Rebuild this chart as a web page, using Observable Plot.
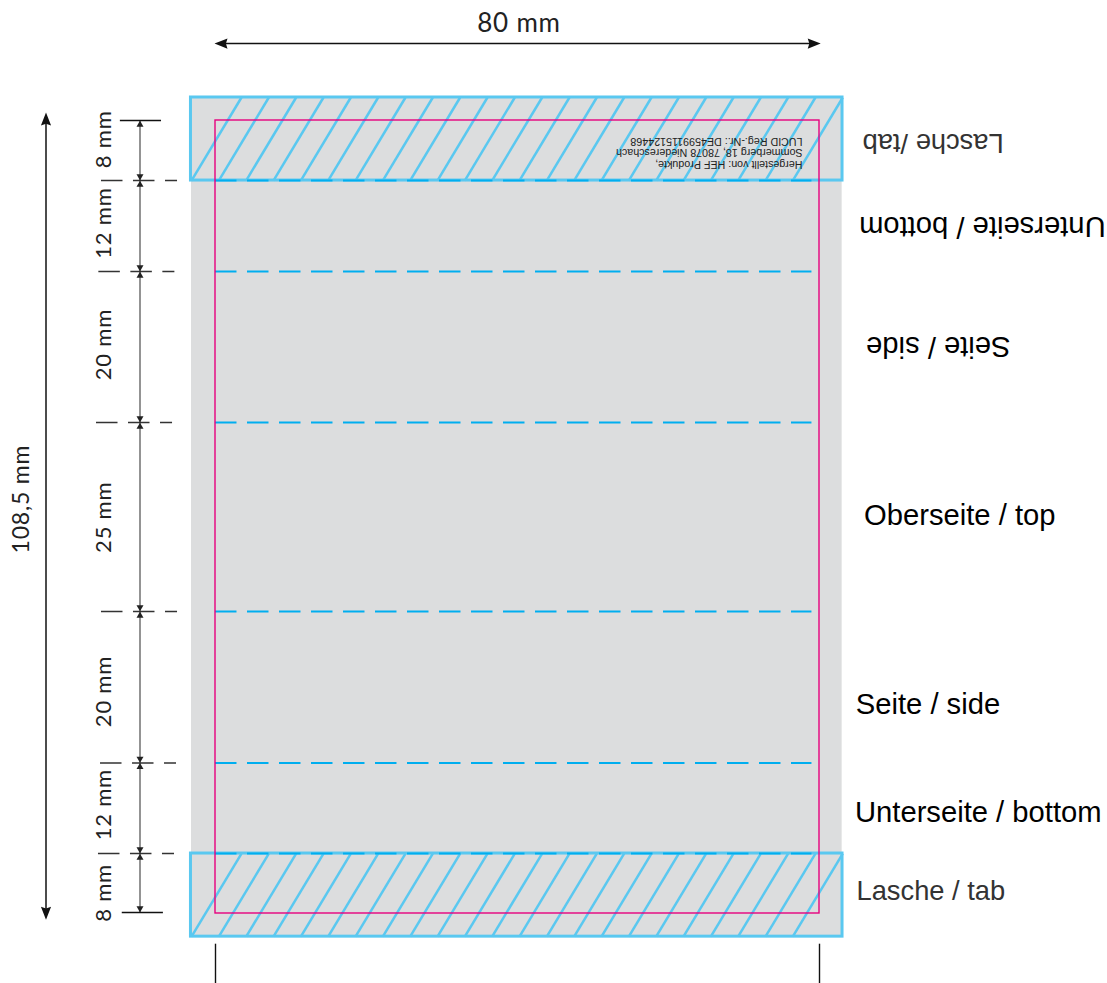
<!DOCTYPE html>
<html>
<head>
<meta charset="utf-8">
<style>html,body{margin:0;padding:0;background:#fff}svg{display:block}
.dim text{letter-spacing:.8px}</style>
<script src="https://cdn.jsdelivr.net/npm/d3@7"></script>
<script src="https://cdn.jsdelivr.net/npm/@observablehq/plot@0.6"></script>
</head>
<body>
<script>
// all positions in millimetres on the packaging drawing
const foldLines = [7.96, 20.02, 40.04, 65.09, 85.17, 97.18];
const dimStops = [0, 7.96, 20.02, 40.04, 65.09, 85.17, 97.18, 105];
const dimLabels = [
  {y: 2.5, t: "8 mm"}, {y: 13.6, t: "12 mm"}, {y: 29.7, t: "20 mm"}, {y: 52.6, t: "25 mm"},
  {y: 75.7, t: "20 mm"}, {y: 90.7, t: "12 mm"}, {y: 102.4, t: "8 mm"}
];
const tickStarts = [-15.1, -15.45, -15.76, -15.1, -15.23, -15.5];
const endTicks = [{y: 0, x1: -12.6, x2: -7.15}, {y: 105, x1: -12.35, x2: -6.9}];
const hatchStarts = [-3.18,0.44,4.06,7.68,11.3,14.92,18.54,22.16,25.78,29.4,33.02,36.64,40.26,43.88,47.5,51.12,54.74,58.36,61.98,65.6,69.22,72.84,76.46];
const tabs = [{y1: -3.05, y2: 7.96}, {y1: 97.18, y2: 108.2}];
const sansLabels = [
  {x: 117.9, y: 14.1, t: "Unterseite / bottom", flip: true},
  {x: 105.3, y: 30, t: "Seite / side", flip: true},
  {x: 85.9, y: 52.4, t: "Oberseite / top", flip: false},
  {x: 84.8, y: 77.4, t: "Seite / side", flip: false},
  {x: 84.7, y: 91.7, t: "Unterseite / bottom", flip: false}
];
const tabLabels = [
  {x: 104.4, y: 2.9, t: "Lasche /tab", flip: true},
  {x: 84.9, y: 102.2, t: "Lasche / tab", flip: false}
];
const imprint = [
  {y: 5.83, t: "Hergestellt von: HEF Produkte,"},
  {y: 4.3, t: "Sommerberg 18, 78078 Niedereschach"},
  {y: 2.8, t: "LUCID Reg.-Nr.: DE4599115124468"}
];
const widthHeads = [{x: 0.73, rotate: -90}, {x: 79.3, rotate: 90}];
const heightHeads = [{y: -0.2, rotate: 0}, {y: 105.1, rotate: 180}];
const cropMarks = [0, 80];

const stealth = {draw(c, size) {
  const r = Math.sqrt(size / Math.PI);
  c.moveTo(0, -r); c.lineTo(r * .78, r); c.lineTo(0, r * .75); c.lineTo(-r * .78, r); c.closePath();
}};
const mmX = 7.55, mmY = 7.543, W = 1107, H = 983;
const cyan = "#5ac8f0";
const chart = Plot.plot({
  width: W, height: H, margin: 0,
  x: {type: "linear", domain: [-215 / mmX, (W - 215) / mmX], range: [0, W], axis: null},
  y: {type: "linear", domain: [-120 / mmY, (H - 120) / mmY], range: [0, H], axis: null},
  marks: [
    // sheet
    Plot.rectY([0], {x1: -3.18, x2: 83, y1: -3, y2: 108.2, fill: "#dcddde"}),
    // hatching
    Plot.link(hatchStarts, {x1: d => d, x2: d => d + 6.62, y1: tabs[0].y2, y2: tabs[0].y1, stroke: cyan, strokeWidth: 2.5}),
    Plot.link(hatchStarts, {x1: d => d, x2: d => d + 6.62, y1: tabs[1].y2, y2: tabs[1].y1, stroke: cyan, strokeWidth: 2.5}),
    // tabs
    Plot.rect(tabs, {x1: -3.25, x2: 83.05, y1: "y1", y2: "y2", stroke: cyan, strokeWidth: 3, fill: "none"}),
    // fold lines
    Plot.ruleY(foldLines, {x1: 0, x2: 79, stroke: "#00aeef", strokeWidth: 2, strokeDasharray: "21.5 10.5"}),
    // trim outline
    Plot.rect([0], {x1: 0, x2: 80, y1: 0, y2: 105.13, stroke: "#e6007e", strokeWidth: 1.4, fill: "none"}),
    // imprint
    Plot.text(imprint, {x: 77.75, y: "y", text: "t", rotate: 180, textAnchor: "start", fontFamily: "Liberation Sans", fontSize: 10.7, fill: "#222"}),
    // dimension rules
    Plot.ruleX([-10], {y1: 0, y2: 105, stroke: "#666", strokeWidth: 1.4}),
    Plot.ruleY(endTicks, {y: "y", x1: "x1", x2: "x2", stroke: "#111", strokeWidth: 1.4}),
    Plot.ruleY(foldLines, {x1: (d, i) => tickStarts[i], x2: (d, i) => tickStarts[i] + 10.07, stroke: "#333", strokeWidth: 1.4, strokeDasharray: "21.5 10.5"}),
    Plot.dot(dimStops.slice(1), {x: -10, y: d => d - 0.55, r: 2.6, symbol: "triangle", rotate: 180, fill: "#222"}),
    Plot.dot(dimStops.slice(0, -1), {x: -10, y: d => d + 0.55, r: 2.6, symbol: "triangle", fill: "#222"}),
    Plot.text(dimLabels, {x: -14.8, y: "y", text: "t", rotate: -90, fontFamily: "Lato", fontSize: 22, fill: "#222", className: "dim"}),
    // overall arrows
    Plot.ruleY([-10.2], {x1: 0.5, x2: 79.5, stroke: "#111", strokeWidth: 1.5}),
    Plot.dot(widthHeads, {x: "x", y: -10.2, r: 6.5, symbol: stealth, rotate: "rotate", fill: "#111"}),
    Plot.ruleX([-22.45], {y1: 0, y2: 105, stroke: "#111", strokeWidth: 1.5}),
    Plot.dot(heightHeads, {x: -22.45, y: "y", r: 6.5, symbol: stealth, rotate: "rotate", fill: "#111"}),
    Plot.text(["80 mm"], {x: 40.2, y: -12.9, text: d => d, fontFamily: "Lato", fontSize: 26, fill: "#222", className: "dim"}),
    Plot.text(["108,5 mm"], {x: -25.7, y: 50.2, text: d => d, rotate: -90, fontFamily: "Lato", fontSize: 23, fill: "#222", className: "dim"}),
    // crop marks
    Plot.ruleX(cropMarks, {y1: 109.2, y2: 114.5, stroke: "#111", strokeWidth: 1.4}),
    // side labels
    Plot.text(sansLabels.filter(d => d.flip), {x: "x", y: "y", text: "t", rotate: 180, textAnchor: "start", fill: "#000", fontSize: 29.2, fontFamily: "Liberation Sans"}),
    Plot.text(sansLabels.filter(d => !d.flip), {x: "x", y: "y", text: "t", textAnchor: "start", fill: "#000", fontSize: 29.2, fontFamily: "Liberation Sans"}),
    Plot.text(tabLabels.filter(d => d.flip), {x: "x", y: "y", text: "t", rotate: 180, textAnchor: "start", fill: "#333", fontSize: 27.3, fontFamily: "Liberation Sans"}),
    Plot.text(tabLabels.filter(d => !d.flip), {x: "x", y: "y", text: "t", textAnchor: "start", fill: "#333", fontSize: 27.3, fontFamily: "Liberation Sans"})
  ]
});
document.body.appendChild(chart);
</script>
</body>
</html>
